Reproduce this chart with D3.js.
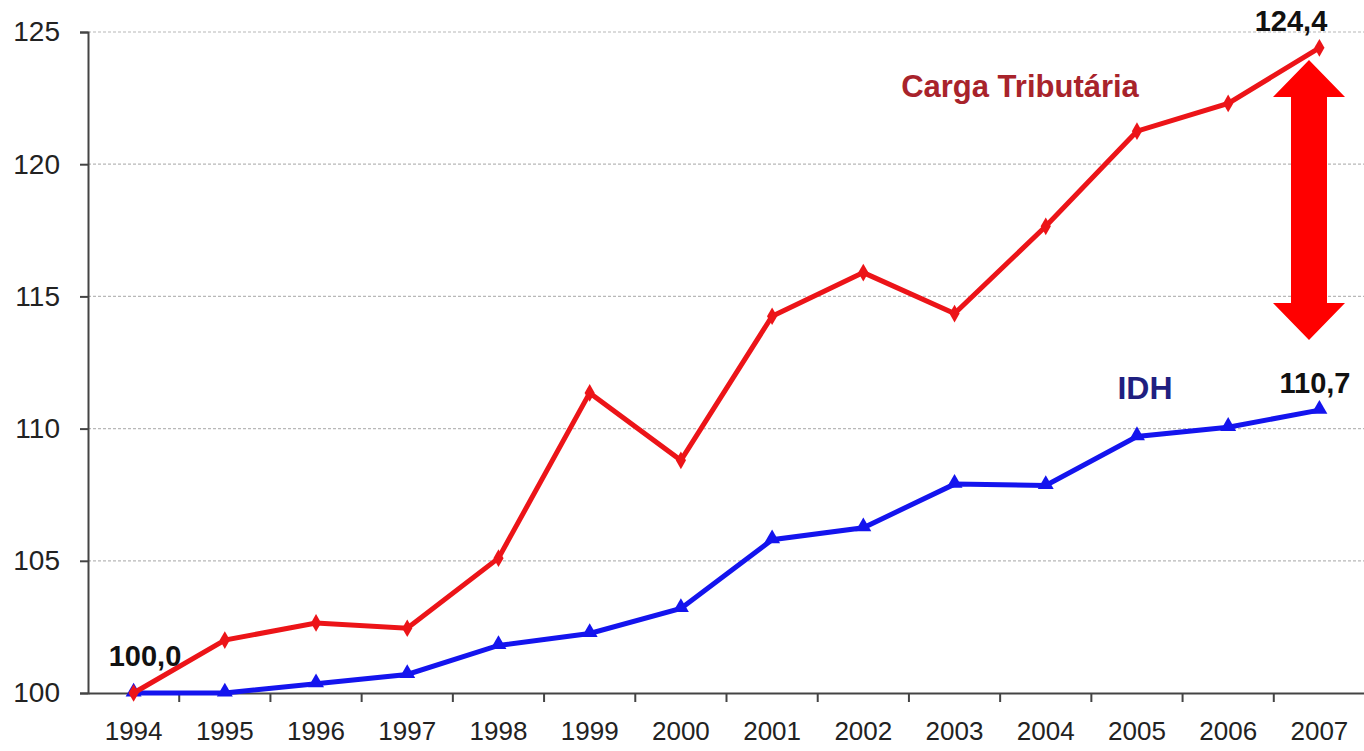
<!DOCTYPE html>
<html>
<head>
<meta charset="utf-8">
<script src="https://cdn.jsdelivr.net/npm/d3@7"></script>
<style>
  body { margin: 0; background: #fff; }
  svg { display: block; font-family: "Liberation Sans", Arial, sans-serif; }
</style>
</head>
<body>
<svg width="1364" height="751"></svg>
<script>
var years = ['1994','1995','1996','1997','1998','1999','2000','2001','2002','2003','2004','2005','2006','2007']
var carga = [100.0, 102.0, 102.65, 102.45, 105.1, 111.35, 108.8, 114.25, 115.9, 114.35, 117.65, 121.25, 122.3, 124.4]
var idh = [100.0, 100.0, 100.35, 100.7, 101.8, 102.25, 103.2, 105.8, 106.25, 107.9, 107.85, 109.7, 110.05, 110.7]
var yTicks = [100, 105, 110, 115, 120, 125]

var svg = d3.select('svg')
var x = d3.scaleBand().domain(years).range([88, 1365])
var y = d3.scaleLinear().domain([100, 125]).range([693, 32])
var cx = function(i) { return x(years[i]) + x.bandwidth() / 2 }

// grid
svg.append('g').selectAll('line')
  .data(yTicks.slice(1))
  .enter().append('line')
    .attr('x1', 88).attr('x2', 1364)
    .attr('y1', function(d) { return y(d) }).attr('y2', function(d) { return y(d) })
    .attr('stroke', '#b8b8b8').attr('stroke-width', 1.2)
    .attr('stroke-dasharray', '3,2')

// y axis
var yAxis = svg.append('g')
  .attr('transform', 'translate(88,0)')
  .call(d3.axisLeft(y).tickValues(yTicks).tickSize(8).tickPadding(20))
yAxis.select('.domain').attr('stroke', '#444').attr('stroke-width', 2)
yAxis.selectAll('.tick line').attr('stroke', '#444').attr('stroke-width', 2)
yAxis.selectAll('text').attr('font-size', 28).attr('fill', '#222')

// x axis
var xAxis = svg.append('g')
  .attr('transform', 'translate(0,693)')
  .call(d3.axisBottom(x).tickSize(0).tickPadding(29))
xAxis.select('.domain').attr('stroke', '#444').attr('stroke-width', 2)
xAxis.selectAll('text').attr('font-size', 26).attr('fill', '#222')
xAxis.selectAll('.sep')
  .data(years.slice(1))
  .enter().append('line')
    .attr('class', 'sep')
    .attr('x1', function(d) { return x(d) }).attr('x2', function(d) { return x(d) })
    .attr('y1', 0).attr('y2', 9)
    .attr('stroke', '#444').attr('stroke-width', 2)

var line = d3.line()
  .x(function(d, i) { return cx(i) })
  .y(function(d) { return y(d) })

svg.append('path').datum(idh)
  .attr('d', line).attr('fill', 'none')
  .attr('stroke', '#1414ee').attr('stroke-width', 5)
svg.append('g').selectAll('path')
  .data(idh).enter().append('path')
    .attr('d', d3.symbol().type(d3.symbolTriangle).size(110))
    .attr('transform', function(d, i) { return 'translate(' + cx(i) + ',' + (y(d) - 1) + ')' })
    .attr('fill', '#1414ee')

svg.append('path').datum(carga)
  .attr('d', line).attr('fill', 'none')
  .attr('stroke', '#ec1418').attr('stroke-width', 5)
svg.append('g').selectAll('path')
  .data(carga).enter().append('path')
    .attr('d', d3.symbol().type(d3.symbolDiamond).size(90))
    .attr('transform', function(d, i) { return 'translate(' + cx(i) + ',' + y(d) + ')' })
    .attr('fill', '#ec1418')

// labels
svg.append('text').attr('x', 1020).attr('y', 97)
  .attr('text-anchor', 'middle').attr('font-size', 31).attr('font-weight', 'bold')
  .attr('fill', '#a8232b').text('Carga Tributária')
svg.append('text').attr('x', 1145).attr('y', 399)
  .attr('text-anchor', 'middle').attr('font-size', 32).attr('font-weight', 'bold')
  .attr('fill', '#1f1f80').text('IDH')

var last = years.length - 1
svg.append('text').attr('x', 145).attr('y', 666)
  .attr('text-anchor', 'middle').attr('font-size', 29).attr('font-weight', 'bold')
  .attr('fill', '#111').text('100,0')
svg.append('text').attr('x', 1291).attr('y', 31)
  .attr('text-anchor', 'middle').attr('font-size', 29).attr('font-weight', 'bold')
  .attr('fill', '#111').text(d3.format('.1f')(carga[last]).replace('.', ','))
svg.append('text').attr('x', 1315).attr('y', 393)
  .attr('text-anchor', 'middle').attr('font-size', 29).attr('font-weight', 'bold')
  .attr('fill', '#111').text(d3.format('.1f')(idh[last]).replace('.', ','))

// double arrow
var ax = 1309
svg.append('path')
  .attr('d', 'M' + ax + ',60 L' + (ax + 36) + ',97 L' + (ax + 18) + ',97 L' + (ax + 18) + ',303 L' + (ax + 36) + ',303 L' + ax + ',340 L' + (ax - 36) + ',303 L' + (ax - 18) + ',303 L' + (ax - 18) + ',97 L' + (ax - 36) + ',97 Z')
  .attr('fill', '#ff0000')
</script>
</body>
</html>
